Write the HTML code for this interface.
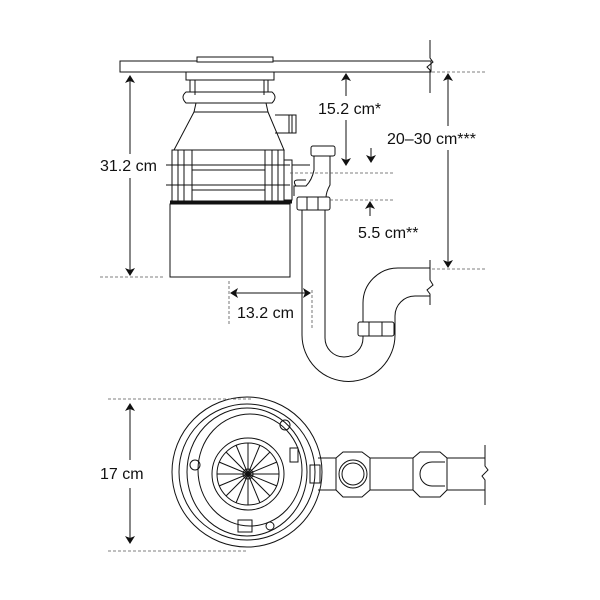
<!DOCTYPE html>
<html><head><style>
html,body{margin:0;padding:0;background:#fff;}
svg{display:block;}
text{font-family:"Liberation Sans",sans-serif;font-size:16px;fill:#111;}
</style></head><body>
<svg width="600" height="600" viewBox="0 0 600 600" xmlns="http://www.w3.org/2000/svg">
<defs>
<marker id="a" markerWidth="8" markerHeight="10" refX="7" refY="5" orient="auto" markerUnits="userSpaceOnUse">
<path d="M0,0 L8,5 L0,10 L2,5 Z" fill="#111"/></marker>
</defs>
<g fill="none" stroke="#111" stroke-width="1">
<!-- countertop -->
<rect x="120" y="61" width="311" height="11" fill="#fff"/>
<path d="M430 40 V58 L433 62 L427 67 L430 70 V93"/>
<rect x="197" y="57" width="76" height="5" fill="#fff"/>
<!-- mount -->
<path d="M186 72 H274 V80 H186 Z"/>
<path d="M190 80 V92 M268 80 V92 M195 80 V95 M264 80 V95"/>
<path d="M186 92 Q180 97 186 103 H272 Q278 97 272 92 Z"/>
<path d="M196 103 H266 L268 112 H194 Z"/>
<!-- cone -->
<path d="M194 112 L174 150 H284 L268 112"/>
<path d="M275 115 H296 V133 H275"/>
<path d="M289 115 V133 M292 115 V133"/>
<!-- cage -->
<rect x="172" y="150" width="112" height="52"/>
<path d="M178 150 V202 M184 150 V202 M192 150 V202 M265 150 V202 M272 150 V202 M278 150 V202"/>
<path d="M166 165 H290 M192 170 H265 M166 185 H290 M192 190 H265"/>
<path d="M284 160 H292 V200 H284"/>
<path d="M170 202 H292" stroke-width="3"/>
<!-- lower cylinder -->
<rect x="170" y="204" width="120" height="73"/>
<!-- drain -->
<path d="M292 165 H310"/>
<rect x="311" y="146" width="24" height="10" rx="2" fill="#fff"/>
<path d="M314 156 V170 Q312 180 306 186 H294 V196 M330 156 V185 Q326 192 326 198"/>
<path d="M296 186 Q292 180 298 180 H306"/>
<rect x="297" y="197" width="33" height="13" rx="2" fill="#fff"/>
<path d="M307 197 V210 M318 197 V210"/>
<!-- trap -->
<path d="M302 210 V335 A46.5 46.5 0 0 0 395 335 V316 A20 20 0 0 1 415 296 H430"/>
<path d="M325 210 V338 A19 19 0 0 0 363 338 V303 A35 35 0 0 1 398 268 H430"/>
<path d="M430 260 V280 L433 285 L427 290 L430 294 V305"/>
<rect x="358" y="322" width="36" height="14" rx="2" fill="#fff"/>
<path d="M369 322 V336 M382 322 V336"/>
<!-- bottom view -->
<circle cx="247" cy="472" r="75"/>
<circle cx="247" cy="472" r="68"/>
<ellipse cx="247" cy="472" rx="60" ry="64"/>
<ellipse cx="250" cy="470" rx="52" ry="56"/>
<circle cx="248" cy="474" r="36"/>
<circle cx="248" cy="474" r="31"/>
<circle cx="248" cy="474" r="5"/>
<path d="M248 443 V505 M217 474 H279 M226 452 L270 496 M270 452 L226 496 M236 445 L260 503 M260 445 L236 503 M219 462 L277 486 M219 486 L277 462"/>
<rect x="290" y="448" width="8" height="14"/>
<rect x="310" y="465" width="10" height="18"/>
<rect x="238" y="520" width="14" height="12"/>
<circle cx="195" cy="465" r="5"/><circle cx="285" cy="425" r="5"/><circle cx="270" cy="526" r="4"/>
<path d="M318 458 H485 M318 490 H485"/>
<path d="M485 445 V466 L488 470 L482 476 L485 480 V505"/>
<path d="M336 458 L343 452 H362 L370 458 V490 L362 497 H343 L336 490 Z" fill="#fff"/>
<circle cx="353" cy="474" r="14"/><circle cx="353" cy="474" r="11"/>
<path d="M413 458 L420 452 H440 L447 458 V490 L440 497 H420 L413 490 Z" fill="#fff"/>
<path d="M445 462 H432 A12 12 0 0 0 432 486 H445"/>
</g>
<!-- dimensions -->
<g stroke="#111" stroke-width="1" fill="none">
<path d="M130 90 V154 M130 178 V262" />
<line x1="130" y1="90" x2="130" y2="76" marker-end="url(#a)"/>
<line x1="130" y1="262" x2="130" y2="275" marker-end="url(#a)"/>
<line x1="346" y1="90" x2="346" y2="74" marker-end="url(#a)"/>
<path d="M346 90 V96 M346 120 V150"/>
<line x1="346" y1="150" x2="346" y2="165" marker-end="url(#a)"/>
<line x1="371" y1="148" x2="371" y2="162" marker-end="url(#a)"/>
<line x1="370" y1="216" x2="370" y2="202" marker-end="url(#a)"/>
<line x1="448" y1="90" x2="448" y2="74" marker-end="url(#a)"/>
<path d="M448 90 V126 M448 150 V252"/>
<line x1="448" y1="252" x2="448" y2="267" marker-end="url(#a)"/>
<line x1="260" y1="293" x2="231" y2="293" marker-end="url(#a)"/>
<line x1="260" y1="293" x2="310" y2="293" marker-end="url(#a)"/>
<line x1="130" y1="420" x2="130" y2="404" marker-end="url(#a)"/>
<path d="M130 420 V460 M130 488 V528"/>
<line x1="130" y1="528" x2="130" y2="543" marker-end="url(#a)"/>
</g>
<g stroke="#555" stroke-width="0.8" stroke-dasharray="3,2" fill="none">
<path d="M100 277 H165 M290 173 H393 M330 200 H393 M432 72 H487 M432 269 H487 M229 281 V326 M312 290 V330 M108 399 H252 M108 551 H248"/>
</g>
<text x="100" y="171">31.2 cm</text>
<text x="318" y="114">15.2 cm*</text>
<text x="387" y="144">20–30 cm***</text>
<text x="358" y="238">5.5 cm**</text>
<text x="237" y="318">13.2 cm</text>
<text x="100" y="479">17 cm</text>
</svg>
</body></html>
